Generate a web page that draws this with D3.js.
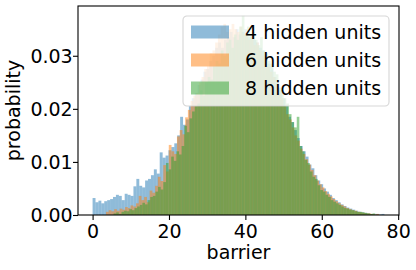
<!DOCTYPE html>
<html>
<head>
<meta charset="utf-8">
<script src="https://cdn.jsdelivr.net/npm/d3@7"></script>
<style>
  body { margin: 0; background: #fff; }
  svg { display: block; font-family: "DejaVu Sans", sans-serif; }
</style>
</head>
<body>
<div id="chart"></div>
<script>
// Series names and the barrier range each histogram was binned over
var seriesNames = ["4 hidden units", "6 hidden units", "8 hidden units"];
var binStart = [0, 3.5, 5.5];
var binEnd = [76.4, 75.0, 74.0];

// Bin heights (probability x 1000), 100 bins each
var blue = [
  3.2, 2.4, 2.7, 2.2, 2.6, 2.8, 3.0, 3.4, 3.8, 3.6,
  2.8, 4.0, 3.8, 3.6, 5.4, 6.8, 5.5, 5.2, 6.5, 6.8,
  7.5, 8.6, 7.8, 11.8, 10.8, 11.2, 12.2, 12.8, 13.5, 15.0,
  18.5, 17.0, 18.0, 20.5, 22.0, 23.0, 24.5, 25.5, 27.0, 27.5,
  29.0, 30.0, 31.5, 32.5, 31.5, 33.0, 33.5, 34.5, 33.5, 35.0,
  34.0, 34.5, 35.0, 33.5, 34.0, 33.0, 32.5, 31.5, 31.0, 30.0,
  28.5, 28.0, 26.0, 25.0, 23.5, 22.0, 20.5, 18.5, 17.5, 16.0,
  14.5, 13.0, 12.0, 11.0, 9.5, 8.8, 7.5, 6.5, 5.8, 5.0,
  4.4, 3.8, 3.2, 2.8, 2.4, 2.0, 1.7, 1.4, 1.2, 1.0,
  0.8, 0.6, 0.5, 0.4, 0.3, 0.2, 0.1, 0.2, 0.1, 0.2
];
var orange = [
  0.6, 0.9, 0.7, 1.1, 0.8, 1.2, 1.0, 1.5, 1.3, 1.8,
  1.6, 2.2, 3.6, 2.8, 3.4, 2.4, 4.6, 4.2, 5.5, 7.2,
  6.4, 9.4, 8.2, 13.2, 12.0, 11.5, 14.8, 16.0, 15.2, 18.4,
  19.8, 21.5, 22.5, 23.0, 25.0, 26.0, 27.5, 28.0, 30.5, 31.0,
  32.5, 34.0, 35.5, 36.0, 34.5, 35.0, 36.0, 35.0, 34.5, 35.5,
  34.0, 34.5, 33.0, 33.5, 32.0, 32.5, 31.0, 30.0, 29.5, 28.0,
  27.0, 26.0, 24.5, 23.0, 22.0, 20.5, 19.0, 18.0, 16.5, 15.0,
  14.0, 12.5, 11.5, 10.5, 9.5, 8.5, 7.5, 6.5, 5.8, 5.2,
  4.5, 4.0, 3.5, 3.0, 2.6, 2.2, 1.9, 1.6, 1.3, 1.1,
  0.9, 0.8, 0.6, 0.5, 0.4, 0.3, 0.3, 0.2, 0.1, 0.2
];
var green = [
  0.3, 0.5, 0.2, 0.6, 0.8, 0.7, 1.1, 0.9, 1.3, 1.6,
  1.9, 2.3, 2.0, 2.8, 3.4, 3.6, 4.4, 5.3, 4.8, 6.2,
  9.8, 8.6, 11.0, 10.2, 12.0, 11.4, 13.0, 16.8, 15.6, 18.2,
  19.5, 20.5, 21.0, 23.5, 22.5, 25.0, 26.0, 25.5, 28.0, 29.0,
  28.5, 31.0, 30.0, 32.5, 33.0, 31.5, 34.0, 33.0, 35.5, 37.5,
  34.0, 35.5, 33.5, 34.5, 33.0, 32.0, 33.5, 31.0, 30.5, 29.0,
  28.5, 27.0, 26.5, 24.0, 23.5, 22.0, 21.0, 19.0, 17.5, 16.5,
  18.5, 13.0, 12.0, 10.4, 9.8, 8.2, 7.2, 6.8, 5.6, 4.7,
  4.4, 3.8, 3.4, 2.8, 2.5, 2.2, 1.9, 1.6, 1.3, 1.2,
  1.0, 0.9, 0.7, 0.6, 0.6, 0.5, 0.4, 0.3, 0.2, 0.3
];
var seriesValues = [blue, orange, green];

var xTicks = [0, 20, 40, 60, 80];
var yTicks = [0, 0.01, 0.02, 0.03];
var yTickLabels = ["0.00", "0.01", "0.02", "0.03"];

var colors = ["#1f77b4", "#ff7f0e", "#2ca02c"];

var width = 416,
    height = 270,
    margin = { top: 6, right: 17, bottom: 55, left: 78 };

var svg = d3.select("#chart")
    .append("svg")
    .attr("width", width)
    .attr("height", height);

// Build bins for each series
var series = seriesValues.map(function(vals, s) {
    var w = (binEnd[s] - binStart[s]) / vals.length;
    return vals.map(function(v, i) {
        return { x0: binStart[s] + i * w, x1: binStart[s] + (i + 1) * w, p: v / 1000 };
    });
});

// matplotlib-style 5% padding on x, top padding on y
var xMin = d3.min(binStart), xMax = d3.max(binEnd);
var xPad = (xMax - xMin) * 0.05;
var x = d3.scaleLinear()
    .domain([xMin - xPad, xMax + xPad])
    .range([margin.left, width - margin.right]);

var yMax = d3.max(series, s => d3.max(s, d => d.p));
var y = d3.scaleLinear()
    .domain([0, yMax * 1.05])
    .range([height - margin.bottom, margin.top]);

// Bars, drawn in order so green ends up on top
series.forEach(function(bins, s) {
    svg.append("g")
        .attr("fill", colors[s])
        .attr("fill-opacity", 0.5)
        .selectAll("rect")
        .data(bins)
        .enter().append("rect")
        .attr("x", d => x(d.x0))
        .attr("width", d => x(d.x1) - x(d.x0))
        .attr("y", d => y(d.p))
        .attr("height", d => y(0) - y(d.p));
});

// Axes
var xAxis = svg.append("g")
    .attr("transform", `translate(0,${height - margin.bottom})`)
    .call(d3.axisBottom(x).tickValues(xTicks).tickSize(5).tickSizeOuter(0).tickPadding(4.2));

var yAxis = svg.append("g")
    .attr("transform", `translate(${margin.left},0)`)
    .call(d3.axisLeft(y).tickValues(yTicks).tickFormat((d, i) => yTickLabels[i])
        .tickSize(5).tickSizeOuter(0).tickPadding(0.3));

[xAxis, yAxis].forEach(function(a) {
    a.attr("font-family", "DejaVu Sans").attr("font-size", 19);
    a.select(".domain").remove();
    a.selectAll(".tick line").attr("stroke", "#000").attr("stroke-width", 1.1);
    a.selectAll(".tick text").attr("fill", "#000");
});
yAxis.selectAll(".tick text").attr("dy", "0.36em");

// Frame (all four spines)
svg.append("rect")
    .attr("x", margin.left)
    .attr("y", margin.top)
    .attr("width", width - margin.right - margin.left)
    .attr("height", height - margin.bottom - margin.top)
    .attr("fill", "none")
    .attr("stroke", "#000")
    .attr("stroke-width", 1.1);

// Axis labels
svg.append("text")
    .attr("x", (margin.left + width - margin.right) / 2)
    .attr("y", 259)
    .attr("text-anchor", "middle")
    .attr("font-size", 19)
    .text("barrier");

svg.append("text")
    .attr("transform", `translate(20,${(margin.top + height - margin.bottom) / 2}) rotate(-90)`)
    .attr("text-anchor", "middle")
    .attr("font-size", 19)
    .text("probability");

// Legend
var legend = svg.append("g").attr("transform", "translate(183,16)");
legend.append("rect")
    .attr("width", 206)
    .attr("height", 90)
    .attr("rx", 4)
    .attr("fill", "#fff")
    .attr("fill-opacity", 0.8)
    .attr("stroke", "#ccc")
    .attr("stroke-opacity", 0.8)
    .attr("stroke-width", 1.1);

var rows = legend.selectAll("g.row")
    .data(seriesNames)
    .enter().append("g")
    .attr("class", "row")
    .attr("transform", (d, i) => `translate(0,${16 + i * 28})`);

rows.append("rect")
    .attr("x", 8)
    .attr("y", -6.5)
    .attr("width", 38)
    .attr("height", 13)
    .attr("fill", (d, i) => colors[i])
    .attr("fill-opacity", 0.5);

rows.append("text")
    .attr("x", 62)
    .attr("dy", "0.36em")
    .attr("font-size", 19)
    .text(d => d);
</script>
</body>
</html>
